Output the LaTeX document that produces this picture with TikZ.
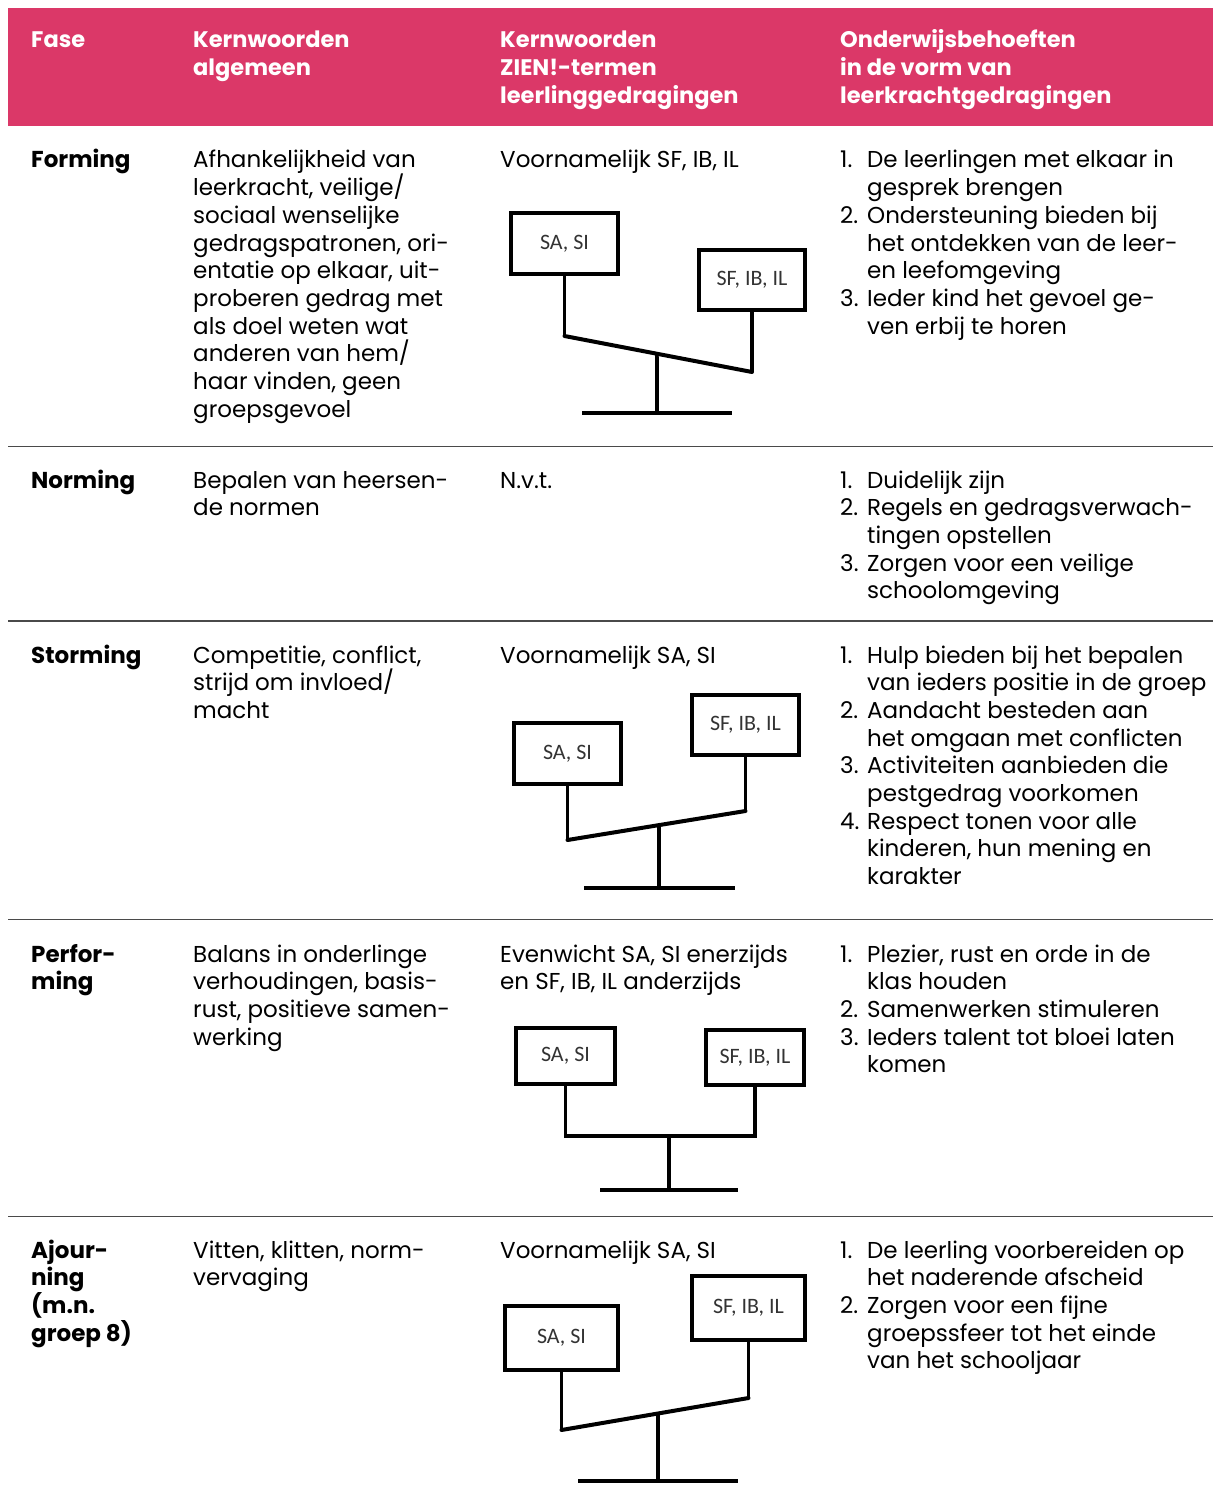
\documentclass[tikz,border=0pt]{standalone}
\usepackage{fontspec}
\setmainfont{Poppins}
\newfontfamily\boxfont{Carlito}
\usetikzlibrary{calc}
\definecolor{hdr}{HTML}{DB3868}
\definecolor{rule}{HTML}{4A4A4A}
\definecolor{boxtxt}{HTML}{333333}
\newcommand{\itm}[2]{\par\noindent\hangindent=27pt\hangafter=1\makebox[27pt][l]{#1}{\let\\\newline #2}}
\tikzset{
  txt/.style={anchor=base west, inner sep=0pt, font=\fontsize{23}{27.67}\selectfont},
  hd/.style={txt, text=white, font=\fontsize{22.5}{27.67}\selectfont\bfseries},
  lbl/.style={txt, font=\fontsize{23}{27.67}\selectfont\bfseries},
  sbox/.style={draw, line width=3.6pt, inner sep=0pt, font=\boxfont\fontsize{22}{24}\selectfont, text=boxtxt},
  wire/.style={line width=3.6pt},
  beam/.style={line width=4pt, line cap=round},
  sep/.style={draw=rule, line width=1.3pt}
}
\begin{document}
\begin{tikzpicture}[x=1pt,y=-1pt]
\useasboundingbox (0,0) rectangle (1213,1506);
% header
\fill[hdr] (8,8) rectangle (1213,126);
\node[hd] (h1) at (31,48) {\parbox[t]{150pt}{Fase}};
\node[hd] (h2) at (193,48) {\parbox[t]{300pt}{\raggedright Kernwoorden\\algemeen}};
\node[hd] (h3) at (500,48) {\parbox[t]{330pt}{\raggedright Kernwoorden\\ZIEN!-termen\\leerlinggedragingen}};
\node[hd] (h4) at (840,48) {\parbox[t]{370pt}{\raggedright Onderwijsbehoeften\\in de vorm van\\leerkrachtgedragingen}};
% separators
\coordinate (s1a) at (8,446.5); \coordinate (s1b) at (1213,446.5);
\coordinate (s2a) at (8,621); \coordinate (s2b) at (1213,621);
\coordinate (s3a) at (8,919.5); \coordinate (s3b) at (1213,919.5);
\coordinate (s4a) at (8,1216.5); \coordinate (s4b) at (1213,1216.5);
\draw[sep] (s1a) -- (s1b);
\draw[sep] (s2a) -- (s2b);
\draw[sep] (s3a) -- (s3b);
\draw[sep] (s4a) -- (s4b);
% ---------------- Forming
\node[lbl] (f1) at (31,168) {\parbox[t]{150pt}{Forming}};
\node[txt] (f2) at (193,168) {\parbox[t]{300pt}{\raggedright Afhankelijkheid van\\leerkracht, veilige/\\sociaal wenselijke\\gedragspatronen, ori-\\entatie op elkaar, uit-\\proberen gedrag met\\als doel weten wat\\anderen van hem/\\haar vinden, geen\\groepsgevoel}};
\node[txt] (f3) at (500,168) {\parbox[t]{330pt}{\raggedright Voornamelijk SF, IB, IL}};
\node[txt] (f4) at (840,168) {\parbox[t]{370pt}{\raggedright
\itm{1.}{De leerlingen met elkaar in\\gesprek brengen}
\itm{2.}{Ondersteuning bieden bij\\het ontdekken van de leer-\\en leefomgeving}
\itm{3.}{Ieder kind het gevoel ge-\\ven erbij te horen}}};
\node[sbox, minimum width=107.5pt, minimum height=61.5pt] (fL) at (564.5,243.5) {SA, SI};
\node[sbox, minimum width=106.5pt, minimum height=60.5pt] (fR) at (752,280) {SF, IB, IL};
\coordinate (fa) at (564.5,336);
\coordinate (fb) at (752,372);
\coordinate (fp) at ($(fa)!0.493!(fb)$);
\coordinate (fq) at (657,413);
\coordinate (fs) at (582,413);
\coordinate (ft) at (732,413);
\draw[wire] (fL.south) -- (fa);
\draw[wire] (fR.south) -- (fb);
\draw[beam] (fa) -- (fb);
\draw[wire] (fp) -- (fq);
\draw[wire] (fs) -- (ft);
% ---------------- Norming
\node[lbl] (n1) at (31,488) {\parbox[t]{150pt}{Norming}};
\node[txt] (n2) at (193,488) {\parbox[t]{300pt}{\raggedright Bepalen van heersen-\\de normen}};
\node[txt] (n3) at (500,488) {\parbox[t]{330pt}{\raggedright N.v.t.}};
\node[txt] (n4) at (840,488) {\parbox[t]{370pt}{\raggedright
\itm{1.}{Duidelijk zijn}
\itm{2.}{Regels en gedragsverwach-\\tingen opstellen}
\itm{3.}{Zorgen voor een veilige\\schoolomgeving}}};
% ---------------- Storming
\node[lbl] (t1) at (31,663) {\parbox[t]{150pt}{Storming}};
\node[txt] (t2) at (193,663) {\parbox[t]{300pt}{\raggedright Competitie, conflict,\\strijd om invloed/\\macht}};
\node[txt] (t3) at (500,663) {\parbox[t]{330pt}{\raggedright Voornamelijk SA, SI}};
\node[txt] (t4) at (840,663) {\parbox[t]{370pt}{\raggedright
\itm{1.}{Hulp bieden bij het bepalen\\van ieders positie in de groep}
\itm{2.}{Aandacht besteden aan\\het omgaan met conflicten}
\itm{3.}{Activiteiten aanbieden die\\pestgedrag voorkomen}
\itm{4.}{Respect tonen voor alle\\kinderen, hun mening en\\karakter}}};
\node[sbox, minimum width=107.5pt, minimum height=61.5pt] (sL) at (567.5,753.5) {SA, SI};
\node[sbox, minimum width=107.5pt, minimum height=60.5pt] (sR) at (745.5,725) {SF, IB, IL};
\coordinate (sa) at (567.5,840);
\coordinate (sb) at (745.5,811);
\coordinate (sp) at ($(sa)!0.514!(sb)$);
\coordinate (sq) at (659,888);
\coordinate (ss) at (584,888);
\coordinate (st) at (735,888);
\draw[wire] (sL.south) -- (sa);
\draw[wire] (sR.south) -- (sb);
\draw[beam] (sa) -- (sb);
\draw[wire] (sp) -- (sq);
\draw[wire] (ss) -- (st);
% ---------------- Performing
\node[lbl] (p1) at (31,962) {\parbox[t]{150pt}{\raggedright Perfor-\\ming}};
\node[txt] (p2) at (193,962) {\parbox[t]{300pt}{\raggedright Balans in onderlinge\\verhoudingen, basis-\\rust, positieve samen-\\werking}};
\node[txt] (p3) at (500,962) {\parbox[t]{330pt}{\raggedright Evenwicht SA, SI enerzijds\\en SF, IB, IL anderzijds}};
\node[txt] (p4) at (840,962) {\parbox[t]{370pt}{\raggedright
\itm{1.}{Plezier, rust en orde in de\\klas houden}
\itm{2.}{Samenwerken stimuleren}
\itm{3.}{Ieders talent tot bloei laten\\komen}}};
\node[sbox, minimum width=99.5pt, minimum height=56.5pt] (pL) at (565.5,1056) {SA, SI};
\node[sbox, minimum width=98.5pt, minimum height=55.5pt] (pR) at (755,1057.5) {SF, IB, IL};
\coordinate (pa) at (565.5,1136);
\coordinate (pb) at (755,1136);
\coordinate (pp) at (669,1136);
\coordinate (pq) at (669,1190);
\coordinate (ps) at (600,1190);
\coordinate (pt) at (738,1190);
\draw[wire] (pL.south) -- (pa) -- (pb) -- (pR.south);
\draw[wire] (pp) -- (pq);
\draw[wire] (ps) -- (pt);
% ---------------- Ajourning
\node[lbl] (a1) at (31,1258) {\parbox[t]{150pt}{\raggedright Ajour-\\ning\\(m.n.\\groep 8)}};
\node[txt] (a2) at (193,1258) {\parbox[t]{300pt}{\raggedright Vitten, klitten, norm-\\vervaging}};
\node[txt] (a3) at (500,1258) {\parbox[t]{330pt}{\raggedright Voornamelijk SA, SI}};
\node[txt] (a4) at (840,1258) {\parbox[t]{370pt}{\raggedright
\itm{1.}{De leerling voorbereiden op\\het naderende afscheid}
\itm{2.}{Zorgen voor een fijne\\groepssfeer tot het einde\\van het schooljaar}}};
\node[sbox, minimum width=113.5pt, minimum height=64.5pt] (aL) at (561.5,1338) {SA, SI};
\node[sbox, minimum width=113.5pt, minimum height=64.5pt] (aR) at (748.5,1308) {SF, IB, IL};
\coordinate (aa) at (561.5,1430);
\coordinate (ab) at (748.5,1398);
\coordinate (ap) at ($(aa)!0.516!(ab)$);
\coordinate (aq) at (658,1481);
\coordinate (as) at (578,1481);
\coordinate (at) at (738,1481);
\draw[wire] (aL.south) -- (aa);
\draw[wire] (aR.south) -- (ab);
\draw[beam] (aa) -- (ab);
\draw[wire] (ap) -- (aq);
\draw[wire] (as) -- (at);
\end{tikzpicture}
\end{document}
